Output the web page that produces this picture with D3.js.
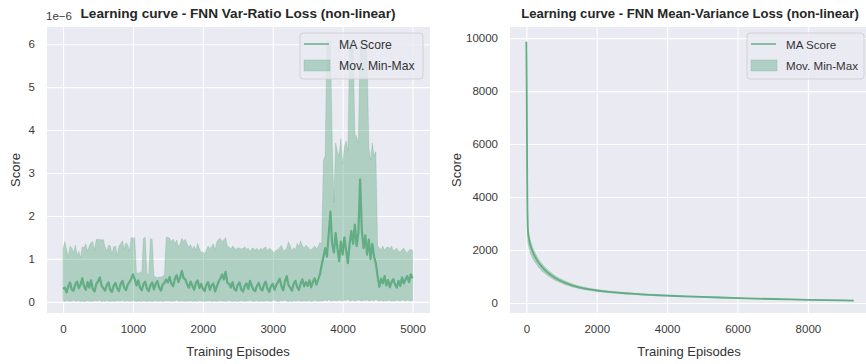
<!DOCTYPE html>
<html>
<head>
<meta charset="utf-8">
<script src="https://cdn.jsdelivr.net/npm/d3@7"></script>
<style>
  html, body { margin: 0; padding: 0; background: #ffffff; }
  svg { display: block; font-family: "Liberation Sans", Arial, sans-serif; }
</style>
</head>
<body>
<svg id="chart" width="866" height="364"></svg>
<script>
// ---------- Var-Ratio loss run (scores in units of 1e-6, one value every 25 episodes) ----------
const varRatioStep = 25;
const varRatioMA = [
  0.30,0.33,0.22,0.36,0.45,0.28,0.26,0.41,0.47,0.32,
  0.40,0.55,0.36,0.28,0.46,0.33,0.50,0.30,0.24,0.41,
  0.48,0.57,0.38,0.32,0.26,0.39,0.45,0.28,0.23,0.38,
  0.44,0.31,0.25,0.42,0.49,0.33,0.27,0.40,0.46,0.54,
  0.64,0.53,0.38,0.50,0.33,0.27,0.41,0.47,0.31,0.25,
  0.39,0.45,0.29,0.42,0.48,0.33,0.26,0.40,0.44,0.52,
  0.45,0.58,0.42,0.36,0.54,0.62,0.46,0.57,0.72,0.55,
  0.52,0.41,0.33,0.47,0.37,0.28,0.44,0.50,0.32,0.42,
  0.31,0.25,0.40,0.46,0.28,0.38,0.43,0.24,0.36,0.47,
  0.54,0.64,0.52,0.70,0.45,0.42,0.33,0.46,0.30,0.26,
  0.40,0.45,0.28,0.24,0.37,0.43,0.30,0.49,0.37,0.28,
  0.25,0.38,0.44,0.31,0.26,0.40,0.47,0.30,0.23,0.37,
  0.42,0.28,0.39,0.46,0.54,0.36,0.27,0.48,0.60,0.39,
  0.33,0.26,0.42,0.49,0.34,0.28,0.44,0.52,0.36,0.46,
  0.37,0.50,0.34,0.47,0.55,0.40,0.52,0.64,0.85,1.05,
  1.25,1.05,1.55,2.10,1.35,1.15,1.60,1.25,0.95,1.40,
  1.10,1.50,1.20,0.90,1.35,1.65,1.35,1.80,1.30,1.60,
  2.85,1.65,1.25,1.55,1.10,1.45,1.00,1.35,1.05,0.90,
  0.60,0.35,0.54,0.43,0.60,0.38,0.51,0.34,0.46,0.53,
  0.40,0.33,0.49,0.37,0.57,0.43,0.52,0.60,0.46,0.64,
  0.55
];
const varRatioMax = [
  1.25,1.40,1.22,1.05,1.30,1.25,1.15,1.32,1.08,1.18,
  1.02,1.28,1.26,1.35,1.18,1.30,1.38,1.40,1.20,1.45,
  1.45,1.45,1.44,1.45,1.28,1.18,1.32,1.30,1.12,1.28,
  1.30,1.08,1.30,1.35,1.42,1.22,1.38,1.32,1.18,1.50,
  1.48,1.50,0.68,0.66,0.70,0.65,1.48,1.50,0.66,0.62,
  1.47,1.45,0.60,0.58,0.56,0.58,0.57,0.60,0.62,1.50,
  1.50,1.48,1.40,1.46,1.36,1.44,1.28,1.35,1.48,1.40,
  1.46,1.34,1.28,1.33,1.22,1.30,1.20,1.36,1.24,1.15,
  1.16,1.12,1.20,1.30,1.24,1.28,1.35,1.20,1.40,1.45,
  1.48,1.40,1.44,1.50,1.30,1.28,1.22,1.30,1.26,1.22,
  1.26,1.25,1.23,1.24,1.28,1.22,1.25,1.16,1.24,1.25,
  1.20,1.25,1.18,1.24,1.22,1.25,1.28,1.18,1.25,1.22,
  1.18,1.14,1.20,1.22,1.26,1.32,1.18,1.22,1.25,1.40,
  1.30,1.18,1.26,1.22,1.36,1.28,1.42,1.30,1.26,1.32,
  1.28,1.22,1.22,1.25,1.30,1.24,1.28,1.38,1.35,3.30,
  3.40,6.10,5.90,6.10,3.80,2.30,3.70,3.50,3.40,3.80,
  3.20,3.60,3.75,3.50,6.10,5.85,6.05,3.90,3.85,3.70,
  5.90,6.10,5.85,6.00,5.70,3.60,3.30,3.70,3.40,3.50,
  1.30,1.25,1.22,1.30,1.20,1.26,1.28,1.23,1.30,1.18,
  1.22,1.25,1.18,1.16,1.22,1.25,1.18,1.14,1.20,1.22,
  1.20
];
const varRatioMin = [
  0.02,0.01,0.03,0.02,0.01,0.02,0.04,0.01,0.02,0.03,
  0.01,0.02,0.00,0.02,0.03,0.01,0.02,0.01,0.03,0.02,
  0.02,0.04,0.01,0.02,0.01,0.03,0.02,0.01,0.02,0.02,
  0.01,0.03,0.02,0.02,0.04,0.01,0.02,0.03,0.01,0.02,
  0.03,0.02,0.01,0.02,0.02,0.01,0.03,0.02,0.01,0.02,
  0.02,0.01,0.02,0.03,0.01,0.02,0.02,0.01,0.02,0.03,
  0.02,0.03,0.01,0.02,0.02,0.04,0.02,0.01,0.03,0.02,
  0.01,0.02,0.02,0.03,0.01,0.02,0.02,0.01,0.03,0.02,
  0.02,0.01,0.02,0.02,0.03,0.01,0.02,0.02,0.01,0.02,
  0.03,0.02,0.02,0.01,0.02,0.03,0.02,0.01,0.02,0.02,
  0.01,0.02,0.03,0.02,0.01,0.02,0.02,0.04,0.02,0.01,
  0.02,0.03,0.01,0.02,0.02,0.01,0.03,0.02,0.02,0.01,
  0.03,0.05,0.02,0.01,0.02,0.03,0.02,0.04,0.02,0.01,
  0.02,0.01,0.03,0.02,0.02,0.04,0.01,0.02,0.03,0.02,
  0.02,0.03,0.01,0.02,0.04,0.02,0.01,0.03,0.02,0.03,
  0.04,0.02,0.05,0.03,0.02,0.04,0.03,0.02,0.05,0.03,
  0.02,0.04,0.03,0.06,0.02,0.03,0.04,0.02,0.03,0.05,
  0.03,0.02,0.04,0.03,0.05,0.02,0.03,0.04,0.02,0.06,
  0.03,0.02,0.04,0.02,0.03,0.02,0.04,0.03,0.02,0.03,
  0.02,0.04,0.03,0.02,0.05,0.03,0.02,0.04,0.03,0.02,
  0.03
];
const varRatioXTicks = [0, 1000, 2000, 3000, 4000, 5000];
const varRatioYTicks = [0, 1, 2, 3, 4, 5, 6];

// ---------- Mean-Variance loss run ----------
const meanVarEpisodes = [
  0,10,20,30,40,50,60,80,100,125,150,175,200,250,300,350,400,450,500,550,
  600,650,700,750,800,850,900,950,1000,1100,1200,1300,1400,1500,1600,1700,1800,1900,2000,2200,
  2400,2600,2800,3000,3250,3500,3750,4000,4250,4500,4750,5000,5500,6000,6500,7000,7500,8000,8500,9000,
  9300
];
const meanVarMA = [
  9850,8000,5400,3500,2850,2650,2520,2380,2260,2140,2040,1950,1870,1740,1620,1520,1430,1350,1280,1215,
  1155,1100,1050,1005,960,920,885,850,820,760,710,665,625,590,560,535,510,490,470,440,
  412,388,366,348,326,307,290,275,262,250,238,226,205,185,165,148,132,118,105,94,
  88
];
const meanVarMax = [
  9900,9300,7600,5200,3300,2850,2700,2560,2440,2310,2210,2110,2030,1890,1760,1650,1560,1470,1395,1325,
  1260,1200,1145,1095,1045,1000,962,925,890,825,770,720,678,640,608,580,553,530,508,476,
  446,420,396,376,352,332,313,297,283,270,257,244,220,198,177,158,141,126,112,100,
  94
];
const meanVarMin = [
  9780,6400,3900,2700,2300,2220,2150,2050,1960,1830,1790,1680,1640,1520,1440,1330,1280,1190,1150,1080,
  1040,985,950,900,870,830,805,770,750,690,650,605,575,540,515,492,470,452,433,405,
  380,358,338,322,302,285,269,255,243,232,221,210,191,173,155,139,124,111,99,88,
  82
];
const meanVarXTicks = [0, 2000, 4000, 6000, 8000];
const meanVarYTicks = [0, 2000, 4000, 6000, 8000, 10000];

const legendLabels = ["MA Score", "Mov. Min-Max"];
const seriesColor = "#5aa87c";

const svg = d3.select("#chart");

function drawPanel(p) {
  const { left, right, top, bottom } = p.box;
  const x = d3.scaleLinear().domain(p.xDomain).range([left, right]);
  const y = d3.scaleLinear().domain(p.yDomain).range([bottom, top]);
  const g = svg.append("g");

  const clipId = "clip-" + p.id;
  svg.append("clipPath").attr("id", clipId)
    .append("rect").attr("x", left).attr("y", top)
    .attr("width", right - left).attr("height", bottom - top);

  // plot background
  g.append("rect").attr("x", left).attr("y", top)
    .attr("width", right - left).attr("height", bottom - top)
    .attr("fill", "#eaeaf2");

  // axes with full-length ticks acting as gridlines
  const xAxis = g.append("g").attr("transform", `translate(0,${bottom})`)
    .call(d3.axisBottom(x).tickValues(p.xTicks).tickSize(-(bottom - top)).tickPadding(12)
      .tickFormat(d3.format("d")));
  const yAxis = g.append("g").attr("transform", `translate(${left},0)`)
    .call(d3.axisLeft(y).tickValues(p.yTicks).tickSize(-(right - left)).tickPadding(12)
      .tickFormat(d3.format("d")));
  [xAxis, yAxis].forEach(a => {
    a.select(".domain").remove();
    a.selectAll(".tick line").attr("stroke", "#ffffff").attr("stroke-width", 1.1);
    a.selectAll(".tick text").attr("fill", "#3a3a3a")
      .style("font-size", "11.5px").style("font-family", "'Liberation Sans', Arial, sans-serif");
  });
  xAxis.selectAll(".tick text").attr("dy", "0.71em");

  const data = p.xs.map((ep, i) => ({ ep, ma: p.ma[i], lo: p.lo[i], hi: p.hi[i] }));
  const plot = g.append("g").attr("clip-path", `url(#${clipId})`);

  plot.append("path").datum(data)
    .attr("d", d3.area().x(d => x(d.ep)).y0(d => y(d.lo)).y1(d => y(d.hi)))
    .attr("fill", seriesColor).attr("fill-opacity", 0.4)
    .attr("stroke", seriesColor).attr("stroke-opacity", 0.35).attr("stroke-width", 0.7);

  plot.append("path").datum(data)
    .attr("d", d3.line().x(d => x(d.ep)).y(d => y(d.ma)))
    .attr("fill", "none").attr("stroke", seriesColor)
    .attr("stroke-opacity", 0.9).attr("stroke-width", p.lineWidth)
    .attr("stroke-linejoin", "round");

  // title
  svg.append("text").attr("x", p.titleX).attr("y", 18)
    .attr("text-anchor", "middle").attr("font-weight", "bold")
    .attr("font-size", p.titleSize).attr("fill", "#262626").text(p.title);

  // axis labels
  svg.append("text").attr("x", p.xLabelX).attr("y", 356)
    .attr("text-anchor", "middle").attr("font-size", "13px").attr("fill", "#333")
    .text("Training Episodes");
  svg.append("text")
    .attr("transform", `translate(${p.yLabelX},170) rotate(-90)`)
    .attr("text-anchor", "middle").attr("font-size", "13px").attr("fill", "#333")
    .text("Score");

  if (p.offsetText) {
    svg.append("text").attr("x", left - 1).attr("y", 20)
      .attr("font-size", "11.5px").attr("fill", "#3a3a3a").text(p.offsetText);
  }

  // legend
  const lg = svg.append("g").attr("transform", `translate(${p.legend.x},${p.legend.y})`);
  lg.append("rect").attr("width", p.legend.w).attr("height", 46).attr("rx", 3)
    .attr("fill", "#eaeaf2").attr("fill-opacity", 0.8)
    .attr("stroke", "#cccccc").attr("stroke-width", 0.8);
  lg.append("line").attr("x1", 4).attr("x2", 29).attr("y1", 11).attr("y2", 11)
    .attr("stroke", seriesColor).attr("stroke-opacity", 0.85).attr("stroke-width", 1.6);
  lg.append("rect").attr("x", 4).attr("y", 27).attr("width", 26).attr("height", 11)
    .attr("fill", seriesColor).attr("fill-opacity", 0.4)
    .attr("stroke", seriesColor).attr("stroke-opacity", 0.4).attr("stroke-width", 0.6);
  lg.selectAll("text.lbl").data(legendLabels).join("text")
    .attr("x", p.legend.tx).attr("y", (d, i) => 15.5 + i * 21.5)
    .attr("font-size", p.legend.fs).attr("fill", "#333").text(d => d);
}

drawPanel({
  id: "varratio",
  box: { left: 47, right: 430, top: 27, bottom: 313 },
  xDomain: [-230, 5250], yDomain: [-0.26, 6.4],
  xs: varRatioMA.map((_, i) => i * varRatioStep),
  ma: varRatioMA, lo: varRatioMin, hi: varRatioMax,
  xTicks: varRatioXTicks, yTicks: varRatioYTicks, lineWidth: 2.2,
  title: "Learning curve - FNN Var-Ratio Loss (non-linear)", titleX: 238, titleSize: "13.6px",
  xLabelX: 238, yLabelX: 20, offsetText: "1e\u22126",
  legend: { x: 300, y: 33, w: 123, tx: 39, fs: "12.2px" }
});

drawPanel({
  id: "meanvar",
  box: { left: 510, right: 870, top: 27, bottom: 313 },
  xDomain: [-465, 9765], yDomain: [-380, 10420],
  xs: meanVarEpisodes, ma: meanVarMA, lo: meanVarMin, hi: meanVarMax,
  xTicks: meanVarXTicks, yTicks: meanVarYTicks, lineWidth: 1.8,
  title: "Learning curve - FNN Mean-Variance Loss (non-linear)", titleX: 690, titleSize: "13.1px",
  xLabelX: 689, yLabelX: 461, offsetText: null,
  legend: { x: 747, y: 33, w: 117, tx: 39, fs: "11.6px" }
});
</script>
</body>
</html>
